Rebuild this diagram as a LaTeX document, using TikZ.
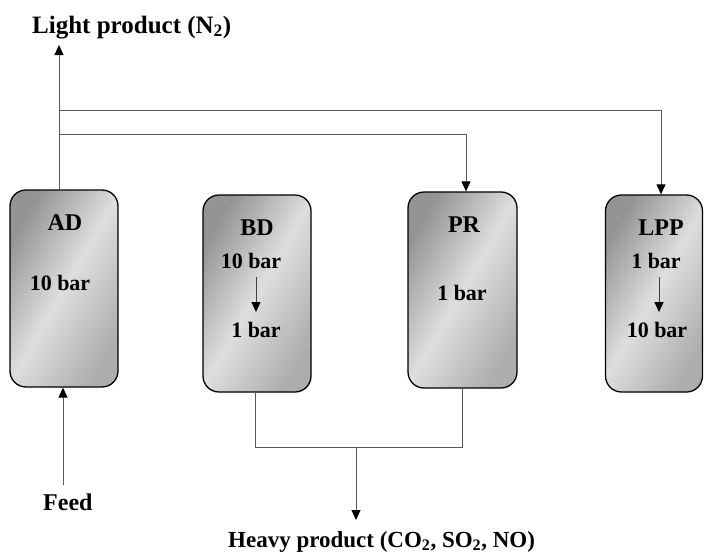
\documentclass[tikz,border=0pt]{standalone}
\usepackage{fontspec}
\setmainfont{Liberation Serif}
\usetikzlibrary{arrows.meta,calc}
\begin{document}
\begin{tikzpicture}[x=1pt,y=-1pt,
  vessel/.style={draw=black, line width=1.3pt, rounded corners=16pt,
    left color=black!42, right color=black!32, middle color=black!13,
    shading angle=60, minimum height=197pt, inner sep=0pt},
  lbl/.style={font=\bfseries\fontsize{#1}{#1}\selectfont, inner sep=0pt, anchor=base},
  lbl/.default=24,
  pipe/.style={draw=black!65, line width=0.9pt},
  flow/.style={pipe, -{Triangle[width=9pt,length=10pt,color=black]}},
  step arrow/.style={draw=black!75, line width=0.9pt, -{Triangle[width=9pt,length=10pt,color=black]}}]
  \useasboundingbox (0,0) rectangle (704,554);

  % vessels
  \node[vessel, minimum width=108pt] (AD)  at (64,288.5) {};
  \node[vessel, minimum width=108pt] (BD)  at (257,293.5) {};
  \node[vessel, minimum width=109pt, minimum height=196pt] (PR) at (462.5,290) {};
  \node[vessel, minimum width=97pt] (LPP) at (654,293.5) {};

  % vessel names and pressures
  \node[lbl] (adname)  at (65,230) {AD};
  \node[lbl=22] (adp)  at (60,290) {10 bar};
  \node[lbl] (bdname)  at (257,235) {BD};
  \node[lbl=22] (bdhi) at (251,268) {10 bar};
  \node[lbl=22] (bdlo) at (256,337) {1 bar};
  \node[lbl] (prname)  at (464,232) {PR};
  \node[lbl=22] (prp)  at (462,300) {1 bar};
  \node[lbl] (lppname) at (661,235) {LPP};
  \node[lbl=22] (lpplo) at (656,268) {1 bar};
  \node[lbl=22] (lpphi) at (657,337) {10 bar};

  \coordinate (bdarr) at (256,0);
  \coordinate (lpparr) at (659,0);
  \draw[step arrow] (bdarr |- 0,277) -- (bdarr |- 0,312);
  \draw[step arrow] (lpparr |- 0,277) -- (lpparr |- 0,312);

  % stream labels
  \node[lbl=25, anchor=base west] (light) at (32,33) {Light product (N\textsubscript{2})};
  \node[lbl, anchor=base west] (feed)  at (43,510) {Feed};
  \node[lbl=23, anchor=base west] (heavy) at (228,547) {Heavy product (CO\textsubscript{2}, SO\textsubscript{2}, NO)};

  % light product line and recycle branches
  \coordinate (lx) at (59,0);
  \coordinate (top1) at (0,110);
  \coordinate (top2) at (0,134);
  \coordinate (prx) at (466,0);
  \coordinate (lppx) at (661,0);
  \draw[flow] (AD.north -| lx) -- (lx |- 0,45);
  \draw[pipe] (lx |- top1) -| (lppx |- top1);
  \draw[flow] (lppx |- top1) -- (lppx |- LPP.north);
  \draw[pipe] (lx |- top2) -| (prx |- top2);
  \draw[flow] (prx |- top2) -- (prx |- PR.north);

  % feed
  \coordinate (fx) at (63,0);
  \draw[flow] (fx |- 0,485) -- (fx |- AD.south);

  % heavy product collection
  \coordinate (bx) at (255,0);
  \coordinate (hy) at (0,447);
  \coordinate (hx) at (356,0);
  \draw[pipe] (BD.south -| bx) -- (bx |- hy) -- (PR.south |- hy) -- (PR.south);
  \draw[flow] (hx |- hy) -- (hx |- 0,520);
\end{tikzpicture}
\end{document}
